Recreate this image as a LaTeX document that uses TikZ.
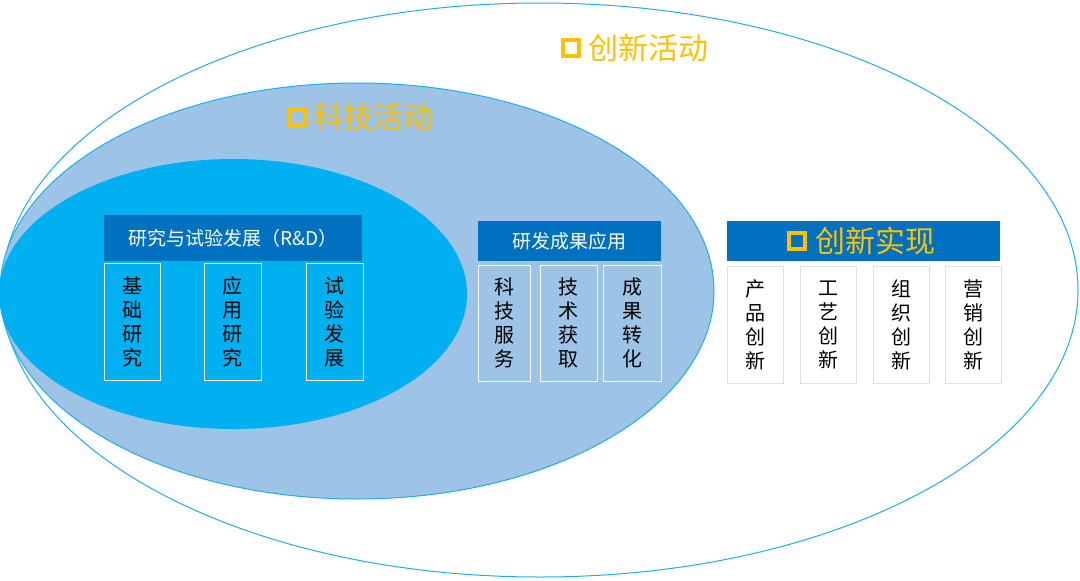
\documentclass[tikz,border=0pt]{standalone}
\usepackage{fontspec}
\setmainfont{Noto Sans CJK SC}
\definecolor{cyanl}{HTML}{1CB0EA}
\definecolor{lblue}{HTML}{9DC3E6}
\definecolor{bblue}{HTML}{00B0F0}
\definecolor{hdr}{HTML}{0070C0}
\definecolor{gold}{HTML}{FFC000}
\begin{document}
\begin{tikzpicture}[x=1pt,y=-1pt,
  hd/.style={fill=hdr,text=white,font=\fontsize{19}{22}\selectfont,inner sep=0},
  sub/.style={draw=white,line width=1pt,font=\fontsize{20}{24}\selectfont,align=center,inner sep=0},
  wsub/.style={draw=black!12,fill=white,line width=1pt,font=\fontsize{20}{24}\selectfont,align=center,inner sep=0},
  ttl/.style={text=gold,font=\fontsize{30}{32}\selectfont,inner sep=0},
  sq/.style={draw=gold,line width=3.5pt,minimum size=16pt,inner sep=0}]
\useasboundingbox (0,0) rectangle (1080,581);
\draw[cyanl,fill=white,line width=1pt] (540,290) ellipse [x radius=538,y radius=287];
\draw[cyanl,fill=lblue,line width=1pt] (357,291) ellipse [x radius=357,y radius=208];
\fill[bblue] (233,294) ellipse [x radius=234,y radius=135];
% titles
\node[ttl,anchor=west] (t1) at (588,48) {创新活动};
\node[sq] (s1) at (571,48) {};
\node[ttl,anchor=west] (t2) at (313,117) {科技活动};
\node[sq] (s2) at (298,117) {};
% R&D
\node[hd,minimum width=258pt,minimum height=46pt] (h1) at (233,238) {研究与试验发展（R\&D）};
\node[sub,minimum width=56pt,minimum height=117pt] (a1) at (132,322) {基\\础\\研\\究};
\node[sub,minimum width=57pt,minimum height=117pt] (a2) at (232.5,322) {应\\用\\研\\究};
\node[sub,minimum width=57pt,minimum height=117pt] (a3) at (334.5,322) {试\\验\\发\\展};
% apply
\node[hd,minimum width=183pt,minimum height=40pt] (h2) at (569.5,241) {研发成果应用};
\node[sub,minimum width=52pt,minimum height=116pt] (b1) at (504,323) {科\\技\\服\\务};
\node[sub,minimum width=57pt,minimum height=116pt] (b2) at (568.5,323) {技\\术\\获\\取};
\node[sub,minimum width=58pt,minimum height=116pt] (b3) at (632,323) {成\\果\\转\\化};
% realization
\node[hd,minimum width=273pt,minimum height=40pt] (h3) at (863.5,241) {};
\node[sq] (s3) at (797,241) {};
\node[ttl,anchor=west] (t3) at (815,241) {创新实现};
\node[wsub,minimum width=56pt,minimum height=117pt] (c1) at (755,324.5) {产\\品\\创\\新};
\node[wsub,minimum width=56pt,minimum height=117pt] (c2) at (828,324.5) {工\\艺\\创\\新};
\node[wsub,minimum width=56pt,minimum height=117pt] (c3) at (901,324.5) {组\\织\\创\\新};
\node[wsub,minimum width=56pt,minimum height=117pt] (c4) at (973,324.5) {营\\销\\创\\新};
\end{tikzpicture}
\end{document}
